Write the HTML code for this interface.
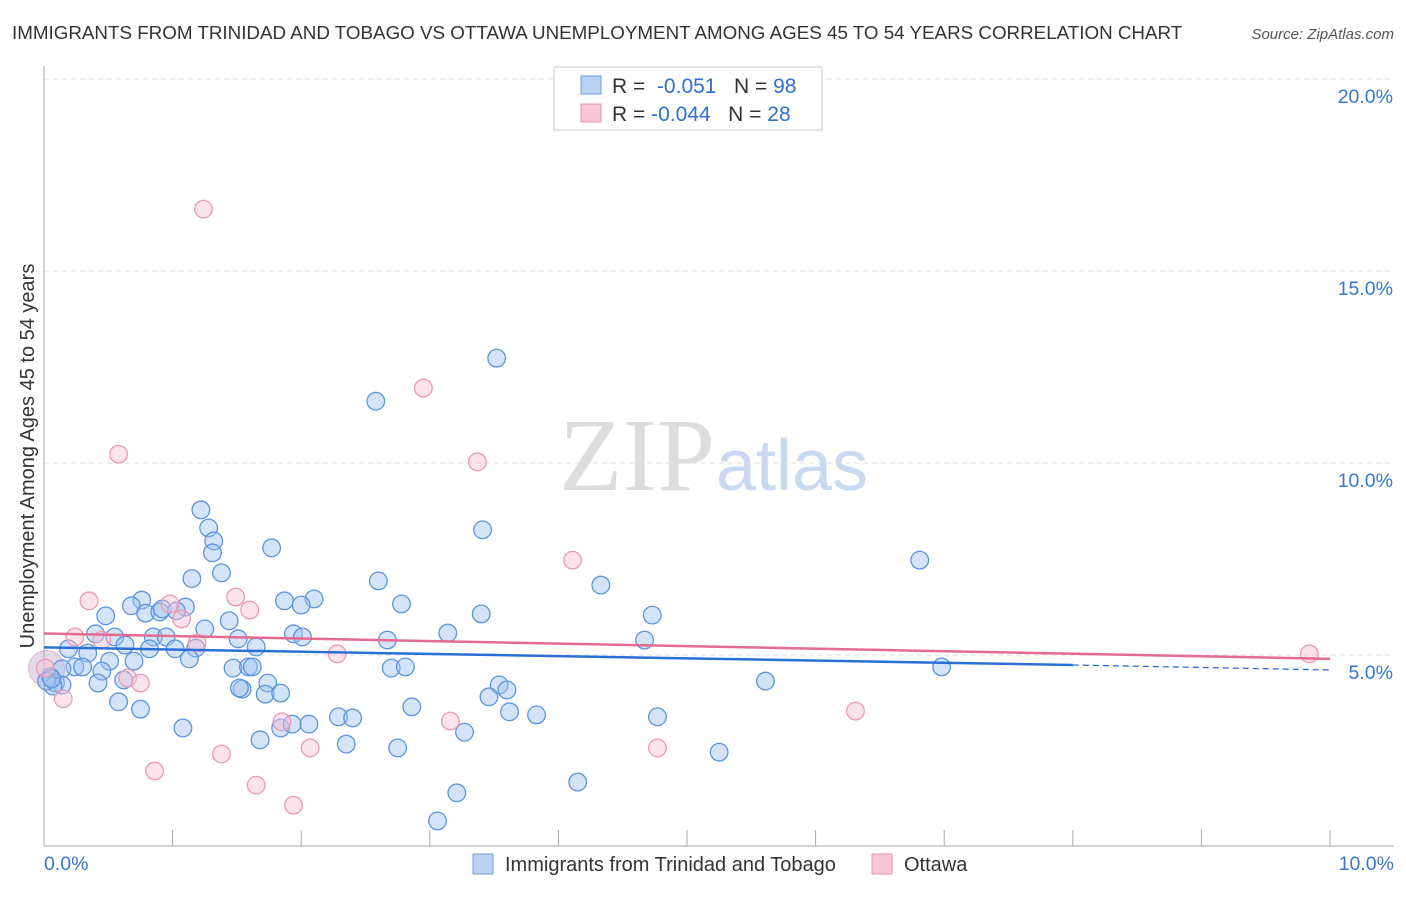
<!DOCTYPE html>
<html><head><meta charset="utf-8"><style>
body{margin:0;background:#fff;font-family:"Liberation Sans",sans-serif;}
</style></head><body>
<svg id="chart" width="1406" height="892" xmlns="http://www.w3.org/2000/svg">
<text x="12" y="39" font-size="18.8" fill="#333">IMMIGRANTS FROM TRINIDAD AND TOBAGO VS OTTAWA UNEMPLOYMENT AMONG AGES 45 TO 54 YEARS CORRELATION CHART</text>
<text x="1394" y="39" font-size="15" fill="#555" text-anchor="end" font-style="italic">Source: ZipAtlas.com</text>
<text x="715" y="490" font-size="104" fill="#ddd" text-anchor="end" font-family="Liberation Serif,serif">ZIP</text>
<text x="716" y="490" font-size="72" fill="#c9d9f0">atlas</text>
<g id="grid"></g><g id="axes"></g><g id="pts"></g><g id="lines"></g>
<text x="0" y="0" transform="translate(34,456) rotate(-90)" font-size="20" fill="#333" text-anchor="middle">Unemployment Among Ages 45 to 54 years</text>
<g>
<rect x="554" y="67" width="268" height="63" fill="#fff" stroke="#ccc"/>
<rect x="581" y="76" width="20" height="18" fill="#b9d3f5" stroke="#6a9de0"/>
<rect x="581" y="104" width="20" height="18" fill="#f9c6d6" stroke="#e894ae"/>
<text x="612" y="93" font-size="21" fill="#333">R = <tspan fill="#3070d0">&#160;-0.051</tspan>&#160;&#160;&#160;N = <tspan fill="#3070d0">98</tspan></text>
<text x="612" y="121" font-size="21" fill="#333">R = <tspan fill="#3070d0">-0.044</tspan>&#160;&#160;&#160;N = <tspan fill="#3070d0">28</tspan></text>
</g>
<g>
<rect x="473" y="854" width="20" height="20" fill="#b9d3f5" stroke="#6a9de0"/>
<text x="505" y="871" font-size="20" fill="#333">Immigrants from Trinidad and Tobago</text>
<rect x="872" y="854" width="20" height="20" fill="#f9c6d6" stroke="#e894ae"/>
<text x="904" y="871" font-size="20" fill="#333">Ottawa</text>
</g>
</svg>
<script>
const yTicks=[5,10,15,20];
const yTickLabels=["5.0%","10.0%","15.0%","20.0%"];
const xTickLabels=["0.0%","10.0%"];
const blueX=[3.52,2.58,1.22,1.28,1.32,1.31,1.77,3.41,6.81,1.15,1.38,2.60,4.33,0.76,0.68,0.79,0.90,0.92,1.10,1.03,0.48,1.87,2.10,2.00,2.78,3.40,4.73,1.44,1.25,0.40,0.55,0.85,0.95,1.51,1.94,2.01,2.67,3.14,4.67,0.63,0.19,0.34,0.82,1.02,1.18,1.65,0.51,0.70,1.13,0.24,0.30,0.14,0.45,1.47,1.59,1.62,2.70,2.81,6.98,0.05,0.09,0.14,0.42,0.62,1.74,3.54,5.61,1.54,1.52,1.72,1.84,3.60,3.46,0.58,0.75,2.86,3.62,3.83,4.77,2.29,2.40,1.08,1.84,1.93,2.06,3.27,1.68,2.35,2.75,5.25,4.15,3.21,3.06,0.07,0.02,0.06];
const blueY=[12.73,11.61,8.78,8.31,7.97,7.66,7.79,8.26,7.47,6.99,7.14,6.93,6.82,6.43,6.28,6.09,6.12,6.20,6.25,6.15,6.02,6.41,6.46,6.30,6.33,6.07,6.04,5.89,5.68,5.55,5.47,5.47,5.47,5.42,5.55,5.47,5.39,5.57,5.39,5.26,5.16,5.05,5.16,5.16,5.18,5.21,4.84,4.84,4.90,4.69,4.69,4.64,4.58,4.66,4.69,4.69,4.66,4.69,4.69,4.43,4.27,4.22,4.27,4.35,4.27,4.22,4.32,4.11,4.14,3.98,4.01,4.09,3.91,3.78,3.59,3.65,3.52,3.44,3.39,3.39,3.36,3.10,3.10,3.20,3.20,2.99,2.79,2.68,2.58,2.47,1.69,1.41,0.68,4.19,4.32,4.38];
const pinkX=[1.24,2.95,0.58,3.37,4.11,0.35,1.49,1.60,0.98,1.07,1.19,0.24,0.45,2.28,9.84,0.65,0.75,0.15,0.01,1.85,3.16,6.31,4.77,1.38,2.07,0.86,1.65,1.94];
const pinkY=[16.61,11.95,10.23,10.03,7.47,6.41,6.51,6.17,6.33,5.94,5.31,5.47,5.39,5.03,5.03,4.40,4.27,3.86,4.66,3.26,3.28,3.54,2.58,2.42,2.58,1.98,1.61,1.09];
const X=v=>44+v*128.6, Y=v=>847-v*38.4;
const NS="http://www.w3.org/2000/svg";
function mk(p,t,a){const e=document.createElementNS(NS,t);for(const k in a)e.setAttribute(k,a[k]);document.getElementById(p).appendChild(e);return e;}
yTicks.forEach((t,i)=>{
 const l=mk('grid','line',{x1:44,x2:1394,y1:Y(t),y2:Y(t),stroke:'#ddd','stroke-dasharray':'5,4'});
 
 
 const tx=mk('axes','text',{x:1393,y:Y(t)+24,'font-size':19.5,fill:'#3a75d0','text-anchor':'end'});tx.textContent=yTickLabels[i];
 
 
});
let a=mk('axes','line',{x1:44,x2:44,y1:66,y2:846,stroke:'#aaa'});


a=mk('axes','line',{x1:44,x2:1394,y1:846,y2:846,stroke:'#aaa'});


for(let i=0;i<=10;i++){const t=mk('axes','line',{x1:X(i),x2:X(i),y1:830,y2:846,stroke:'#aaa'});
 
 }
[[0,44,'start'],[10,1394,'end']].forEach((d,i)=>{const t=mk('axes','text',{x:d[1],y:870,'font-size':19.5,fill:'#3a75d0','text-anchor':d[2]});t.textContent=xTickLabels[i];
 
 });
const big=mk('pts','circle',{cx:X(0.02),cy:Y(4.65),r:18,fill:'rgba(200,170,200,0.45)',stroke:'rgba(200,150,190,0.6)'});


blueX.forEach((v,i)=>{const c=mk('pts','circle',{cx:X(v),cy:Y(blueY[i]),r:8.8,fill:'rgba(160,195,240,0.45)',stroke:'#5e94dd','stroke-width':1.3});
 
 });
pinkX.forEach((v,i)=>{const c=mk('pts','circle',{cx:X(v),cy:Y(pinkY[i]),r:8.8,fill:'rgba(248,190,210,0.45)',stroke:'#e99ab4','stroke-width':1.3});
 
 });
let l=mk('lines','line',{x1:X(0),y1:Y(5.2),x2:X(8),y2:Y(4.74),stroke:'#2a6fd6','stroke-width':2.5});


l=mk('lines','line',{x1:X(8),y1:Y(4.74),x2:X(10),y2:Y(4.61),stroke:'#2a6fd6','stroke-width':1.3,'stroke-dasharray':'6,4'});


l=mk('lines','line',{x1:X(0),y1:Y(5.56),x2:X(10),y2:Y(4.9),stroke:'#e46a92','stroke-width':2.5});


</script>
</body></html>
